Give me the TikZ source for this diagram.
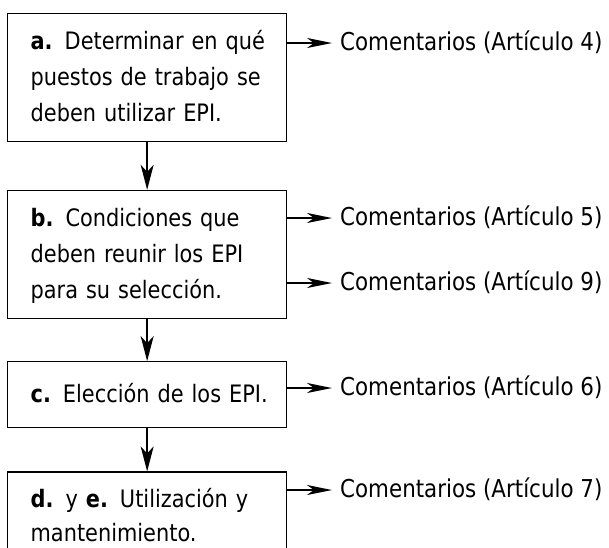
\documentclass[tikz,border=0pt]{standalone}
\usepackage{fontspec}
\setmainfont{DejaVu Sans}[FakeStretch=0.87]
\usetikzlibrary{positioning,arrows.meta}

\begin{document}
\begin{tikzpicture}[x=1pt, y=-1pt,
    etapa/.style={draw, line width=1.3pt, minimum width=279pt, text width=250pt, inner xsep=14.5pt, inner ysep=2pt, align=left,
      font=\fontsize{24}{36}\selectfont, execute at begin node={\leftskip=8.5pt\rule{0pt}{21pt}}, execute at end node=\rule[-5pt]{0pt}{5pt}},
    comentario/.style={anchor=west, inner xsep=8pt, inner ysep=0pt, text height=18pt, text depth=4pt, font=\fontsize{24.6}{36}\selectfont},
    flecha/.style={-{Stealth[length=25pt, width=10pt, inset=7pt]}, line width=1.6pt},
    bajada/.style={-{Stealth[length=25pt, width=13pt, inset=7pt]}, line width=1.6pt}
  ]
  \useasboundingbox (0,0) rectangle (609,547);
  \clip (0,0) rectangle (609,547);

  % etapas
  \node [etapa, anchor=north west, minimum height=128pt] (a) at (7,12.5) {\textbf{a.} Determinar en qué\\ puestos de trabajo se\\ deben utilizar EPI.};
  \node [etapa, below=48pt of a, minimum height=128pt] (b) {\textbf{b.} Condiciones que\\ deben reunir los EPI\\ para su selección.};
  \node [etapa, below=42pt of b, minimum height=66pt] (c) {\textbf{c.} Elección de los EPI.};
  \node [etapa, below=43pt of c, minimum height=88pt, font=\fontsize{24}{34}\selectfont] (d) {\textbf{d.} y \textbf{e.} Utilización y\\ mantenimiento.};

  % comentarios
  \node [comentario] (k4) at (332,43) {Comentarios (Artículo 4)};
  \node [comentario] (k5) at (332,218) {Comentarios (Artículo 5)};
  \node [comentario] (k9) at (332,283) {Comentarios (Artículo 9)};
  \node [comentario] (k6) at (332,388) {Comentarios (Artículo 6)};
  \node [comentario] (k7) at (332,490) {Comentarios (Artículo 7)};

  \draw [bajada] (a) -- (b);
  \draw [bajada] (b) -- (c);
  \draw [bajada] (c) -- (d);

  \draw [flecha] (k4.west -| a.east) -- (k4.west);
  \draw [flecha] (k5.west -| b.east) -- (k5.west);
  \draw [flecha] (k9.west -| b.east) -- (k9.west);
  \draw [flecha] (k6.west -| c.east) -- (k6.west);
  \draw [flecha] (k7.west -| d.east) -- (k7.west);
\end{tikzpicture}
\end{document}
